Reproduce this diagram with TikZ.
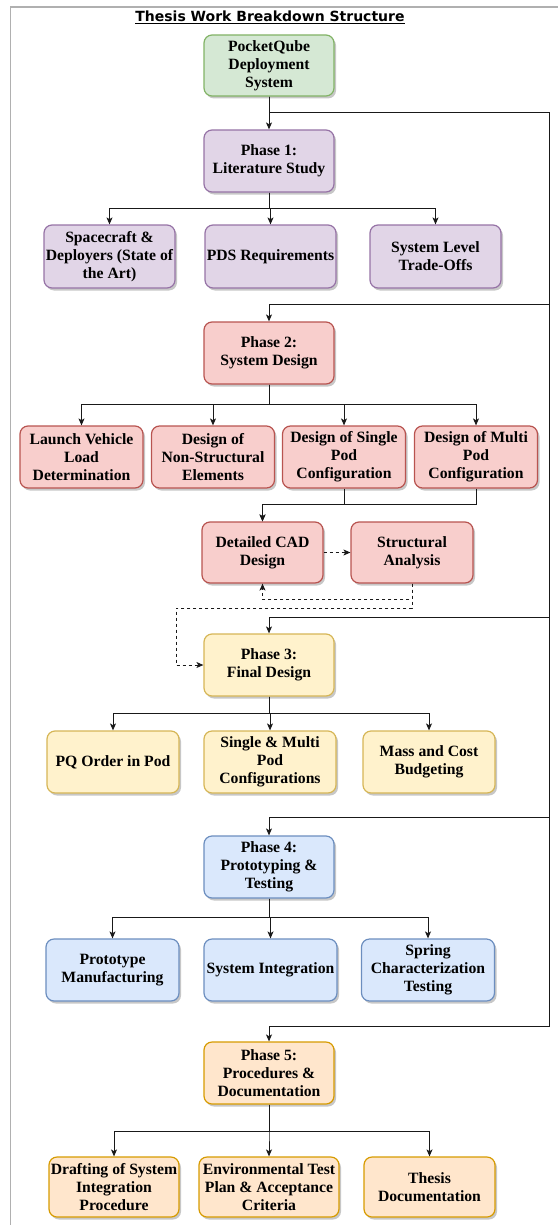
\documentclass[tikz,border=0pt]{standalone}
\usepackage{fontspec}
\setmainfont{Liberation Serif}
\newfontfamily\titlefont{DejaVu Sans}
\usetikzlibrary{arrows.meta,shadows,calc}

% draw.io palette
\definecolor{grnF}{HTML}{D5E8D4}\definecolor{grnS}{HTML}{82B366}
\definecolor{purF}{HTML}{E1D5E7}\definecolor{purS}{HTML}{9673A6}
\definecolor{redF}{HTML}{F8CECC}\definecolor{redS}{HTML}{B85450}
\definecolor{yelF}{HTML}{FFF2CC}\definecolor{yelS}{HTML}{D6B656}
\definecolor{bluF}{HTML}{DAE8FC}\definecolor{bluS}{HTML}{6C8EBF}
\definecolor{orgF}{HTML}{FFE6CC}\definecolor{orgS}{HTML}{D79B00}
\definecolor{frameC}{HTML}{B0B0B0}

\tikzset{
  wbs/.style={rounded corners=8pt, line width=1.2pt, align=center, inner sep=1pt,
    font=\bfseries\fontsize{15.7}{18}\selectfont,
    drop shadow={shadow xshift=2pt, shadow yshift=-2.5pt, opacity=0.22, fill=black}},
  greenbox/.style={wbs, draw=grnS, fill=grnF},
  purplebox/.style={wbs, draw=purS, fill=purF},
  redbox/.style={wbs, draw=redS, fill=redF},
  yellowbox/.style={wbs, draw=yelS, fill=yelF},
  bluebox/.style={wbs, draw=bluS, fill=bluF},
  orangebox/.style={wbs, draw=orgS, fill=orgF},
  sz/.style 2 args={minimum width=#1pt, minimum height=#2pt},
  conn/.style={draw=black!90, line width=1pt},
  arr/.style={conn, -{Stealth[length=7pt, width=6pt, inset=1.8pt]}},
  dasharr/.style={arr, dash pattern=on 3pt off 3pt},
}

\begin{document}
\begin{tikzpicture}[x=1pt, y=-1pt]
\useasboundingbox (0,0) rectangle (557,1225);

% page frame
\draw[frameC, line width=1.3pt] (10.5,1226) -- (10.5,7) -- (558,7);

% title
\node[font=\titlefont\bfseries\fontsize{14}{16}\selectfont, anchor=base, inner sep=0pt] (title) at (270,22)
  {\underline{Thesis Work Breakdown Structure}};

% root
\node[greenbox, sz={130}{61}] (root) at (269,65.5) {PocketQube\\Deployment\\System};

% Phase 1
\node[purplebox, sz={130}{62}] (p1) at (269,161) {Phase 1:\\Literature Study};
\node[purplebox, sz={131}{63}] (c11) at (109.5,256.5) {Spacecraft \&\\Deployers (State of\\the Art)};
\node[purplebox, sz={131}{63}] (c12) at (270.5,256.5) {PDS Requirements};
\node[purplebox, sz={131}{63}] (c13) at (435.5,256.5) {System Level\\Trade-Offs};

% Phase 2
\node[redbox, sz={130}{62}] (p2) at (269,353) {Phase 2:\\System Design};
\node[redbox, sz={123}{62}] (c21) at (81.5,457) {Launch Vehicle\\Load\\Determination};
\node[redbox, sz={123}{62}] (c22) at (213,457) {Design of\\Non-Structural\\Elements};
\node[redbox, sz={123}{62}] (c23) at (344,457) {Design of Single\\Pod\\Configuration};
\node[redbox, sz={123}{62}] (c24) at (476,457) {Design of Multi\\Pod\\Configuration};
\node[redbox, sz={121}{61}] (cad) at (262.5,552.5) {Detailed CAD\\Design};
\node[redbox, sz={122}{61}] (sa) at (412,552.5) {Structural\\Analysis};

% Phase 3
\node[yellowbox, sz={130}{62}] (p3) at (269,665) {Phase 3:\\Final Design};
\node[yellowbox, sz={132}{62}] (c31) at (113,762) {PQ Order in Pod};
\node[yellowbox, sz={132}{62}] (c32) at (270,762) {Single \& Multi\\Pod\\Configurations};
\node[yellowbox, sz={132}{62}] (c33) at (429,762) {Mass and Cost\\Budgeting};

% Phase 4
\node[bluebox, sz={130}{62}] (p4) at (269,867) {Phase 4:\\Prototyping \&\\Testing};
\node[bluebox, sz={133}{62}] (c41) at (112.5,970) {Prototype\\Manufacturing};
\node[bluebox, sz={133}{62}] (c42) at (270.5,970) {System Integration};
\node[bluebox, sz={133}{62}] (c43) at (428,970) {Spring\\Characterization\\Testing};

% Phase 5
\node[orangebox, sz={130}{62}] (p5) at (269,1073) {Phase 5:\\Procedures \&\\Documentation};
\node[orangebox, sz={130}{60}] (c51) at (114,1187) {Drafting of System\\Integration\\Procedure};
\node[orangebox, sz={140}{60}] (c52) at (269,1187) {Environmental Test\\Plan \& Acceptance\\Criteria};
\node[orangebox, sz={131}{60}] (c53) at (429.5,1187) {Thesis\\Documentation};

% rail from the root to each phase
\coordinate (rail) at (549,113);
\draw[arr] (root.south) -- (p1.north);
\draw[arr] (root.south) |- (rail) |- (269,304) -- (p2.north);
\draw[arr] (root.south) |- (rail) |- (269,617) -- (p3.north);
\draw[arr] (root.south) |- (rail) |- (269,817) -- (p4.north);
\draw[arr] (root.south) |- (rail) |- (269,1026) -- (p5.north);

% phase breakdowns
\foreach \c in {c11,c12,c13} \draw[arr] (p1.south) -- (269,208) -| (\c.north);
\foreach \c in {c21,c22,c23,c24} \draw[arr] (p2.south) -- (269,404) -| (\c.north);
\foreach \c in {c31,c32,c33} \draw[arr] (p3.south) -- (269,713) -| (\c.north);
\foreach \c in {c41,c42,c43} \draw[arr] (p4.south) -- (269,917) -| (\c.north);
\foreach \c in {c51,c52,c53} \draw[arr] (p5.south) -- (269,1131) -| (\c.north);

% pod configurations feed the detailed CAD design
\draw[arr] (c23.south) -- (c23.south |- 0,504) -| (cad.north);
\draw[arr] (c24.south) -- (c24.south |- 0,504) -| (cad.north);

% design / analysis iteration
\draw[dasharr] (cad.east) -- (sa.west);
\draw[dasharr] (sa.south) |- (262.5,599) -- (cad.south);
\draw[dasharr] (sa.south) |- (176,608) |- (p3.west);
\end{tikzpicture}
\end{document}
